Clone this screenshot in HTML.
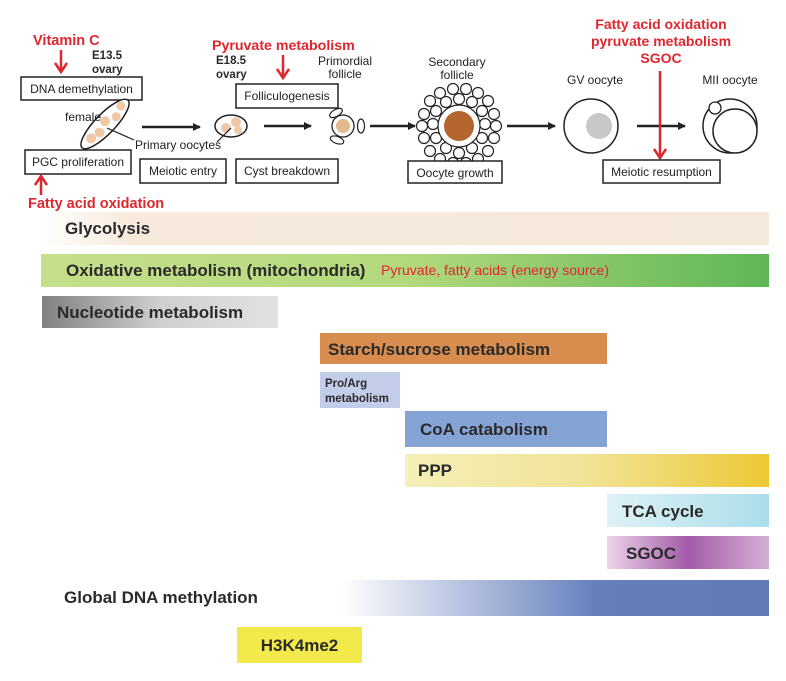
<!DOCTYPE html>
<html><head><meta charset="utf-8"><style>
html,body{margin:0;padding:0;background:#fff;}
svg{display:block;font-family:"Liberation Sans",Arial,sans-serif;}
.b{font-weight:bold;fill:#2a2a2a;}
.r{fill:#e0262e;font-weight:bold;}
.box{fill:#fff;stroke:#222;stroke-width:1.5;}
.t{font-size:12px;fill:#222;}
</style></head><body>
<svg width="786" height="681" viewBox="0 0 786 681" xmlns="http://www.w3.org/2000/svg">
<defs>
<marker id="ak" markerWidth="8" markerHeight="8" refX="7" refY="4" orient="auto" markerUnits="userSpaceOnUse"><path d="M0,0 L8,4 L0,8 z" fill="#222"/></marker>
<marker id="ar" markerWidth="14" markerHeight="14" refX="11" refY="7" orient="auto" markerUnits="userSpaceOnUse"><path d="M2,1 L11,7 L2,13" fill="none" stroke="#e0262e" stroke-width="2.5"/></marker>
<linearGradient id="g1"><stop offset="0" stop-color="#fff"/><stop offset="0.12" stop-color="#f7eadd"/><stop offset="1" stop-color="#f5e9dc"/></linearGradient>
<linearGradient id="g2"><stop offset="0" stop-color="#c5df8a"/><stop offset="0.5" stop-color="#b3d97c"/><stop offset="1" stop-color="#5fb656"/></linearGradient>
<linearGradient id="g3"><stop offset="0" stop-color="#808080"/><stop offset="0.5" stop-color="#cfcfcf"/><stop offset="1" stop-color="#e2e2e2"/></linearGradient>
<linearGradient id="g4"><stop offset="0" stop-color="#f5efb8"/><stop offset="0.5" stop-color="#f1e396"/><stop offset="1" stop-color="#ecc934"/></linearGradient>
<linearGradient id="g5"><stop offset="0" stop-color="#dff1f6"/><stop offset="1" stop-color="#aadeea"/></linearGradient>
<linearGradient id="g6"><stop offset="0" stop-color="#ecd3ea"/><stop offset="0.5" stop-color="#a35ca8"/><stop offset="1" stop-color="#d6aed6"/></linearGradient>
<linearGradient id="g7"><stop offset="0" stop-color="#fff"/><stop offset="0.6" stop-color="#657fbc"/><stop offset="1" stop-color="#627bb8"/></linearGradient>
</defs>

<text x="33" y="45" class="r" font-size="14.5">Vitamin C</text>
<line x1="61" y1="50" x2="61" y2="72" stroke="#e0262e" stroke-width="2.5" marker-end="url(#ar)"/>
<text x="92" y="59" class="b" font-size="11.5">E13.5</text>
<text x="92" y="73" class="b" font-size="11.5">ovary</text>
<rect x="21" y="77" width="121" height="23" class="box"/>
<text x="81.5" y="93" class="t" text-anchor="middle">DNA demethylation</text>
<g transform="translate(105,124) rotate(-46)">
<ellipse cx="0" cy="0" rx="33" ry="10" fill="#fff" stroke="#222" stroke-width="1.5"/>
<circle cx="-20" cy="0" r="5" fill="#f0c8a6"/><circle cx="-10" cy="2" r="5" fill="#f0c8a6"/><circle cx="2" cy="-2" r="5" fill="#f0c8a6"/><circle cx="13" cy="3" r="4.5" fill="#f0c8a6"/><circle cx="24" cy="-1" r="4.5" fill="#f0c8a6"/>
</g>
<text x="65" y="121" class="t">female</text>
<line x1="107" y1="128" x2="134" y2="140" stroke="#222" stroke-width="1.2"/>
<text x="135" y="149" class="t">Primary oocytes</text>
<rect x="25" y="150" width="106" height="24" class="box"/>
<text x="78" y="166" class="t" text-anchor="middle">PGC proliferation</text>
<line x1="41" y1="195" x2="41" y2="176" stroke="#e0262e" stroke-width="2.5" marker-end="url(#ar)"/>
<text x="28" y="208" class="r" font-size="14.5">Fatty acid oxidation</text>
<line x1="142" y1="127" x2="200" y2="127" stroke="#222" stroke-width="2.5" marker-end="url(#ak)"/>
<rect x="140" y="159" width="86" height="24" class="box"/>
<text x="183" y="175" class="t" text-anchor="middle">Meiotic entry</text>

<ellipse cx="231" cy="126" rx="16" ry="11" fill="#fff" stroke="#222" stroke-width="1.5"/>
<circle cx="226" cy="128" r="5" fill="#f0c8a6"/><circle cx="236" cy="122" r="5" fill="#f0c8a6"/><circle cx="238" cy="130" r="4" fill="#f0c8a6"/>
<line x1="231" y1="128" x2="217" y2="142" stroke="#222" stroke-width="1.2"/>
<text x="216" y="64" class="b" font-size="11.5">E18.5</text>
<text x="216" y="78" class="b" font-size="11.5">ovary</text>
<text x="212" y="50" class="r" font-size="14.2">Pyruvate metabolism</text>
<line x1="283" y1="55" x2="283" y2="78" stroke="#e0262e" stroke-width="2.5" marker-end="url(#ar)"/>
<rect x="236" y="84" width="102" height="24" class="box"/>
<text x="287" y="100" class="t" text-anchor="middle">Folliculogenesis</text>
<line x1="264" y1="126" x2="311" y2="126" stroke="#222" stroke-width="2.5" marker-end="url(#ak)"/>
<text x="345" y="65" class="t" text-anchor="middle">Primordial</text>
<text x="345" y="78" class="t" text-anchor="middle">follicle</text>
<circle cx="343" cy="126" r="11" fill="#fff" stroke="#222" stroke-width="1.3"/>
<circle cx="343" cy="126" r="7" fill="#e6b88e"/>
<ellipse cx="336" cy="113" rx="7" ry="3.5" transform="rotate(-30 336 113)" fill="#fff" stroke="#222" stroke-width="1.2"/>
<ellipse cx="337" cy="140" rx="7" ry="3.5" transform="rotate(20 337 140)" fill="#fff" stroke="#222" stroke-width="1.2"/>
<ellipse cx="361" cy="126" rx="3.5" ry="7" fill="#fff" stroke="#222" stroke-width="1.2"/>
<rect x="236" y="159" width="102" height="24" class="box"/>
<text x="287" y="175" class="t" text-anchor="middle">Cyst breakdown</text>
<line x1="370" y1="126" x2="415" y2="126" stroke="#222" stroke-width="2.5" marker-end="url(#ak)"/>

<text x="457" y="66" class="t" text-anchor="middle">Secondary</text>
<text x="457" y="79" class="t" text-anchor="middle">follicle</text>
<g fill="#fff" stroke="#222" stroke-width="1.2">
<circle cx="453" cy="89" r="5.5"/><circle cx="466" cy="89" r="5.5"/><circle cx="478" cy="93" r="5.5"/><circle cx="440" cy="93" r="5.5"/><circle cx="430" cy="101" r="5.5"/><circle cx="488" cy="101" r="5.5"/><circle cx="494" cy="114" r="5.5"/><circle cx="424" cy="114" r="5.5"/><circle cx="496" cy="126" r="5.5"/><circle cx="422" cy="126" r="5.5"/>
<circle cx="453" cy="163" r="5.5"/><circle cx="466" cy="163" r="5.5"/><circle cx="478" cy="159" r="5.5"/><circle cx="440" cy="159" r="5.5"/><circle cx="430" cy="151" r="5.5"/><circle cx="488" cy="151" r="5.5"/><circle cx="494" cy="138" r="5.5"/><circle cx="424" cy="138" r="5.5"/>
<circle cx="459" cy="99" r="5.5"/><circle cx="472" cy="102" r="5.5"/><circle cx="482" cy="111" r="5.5"/><circle cx="485" cy="124" r="5.5"/><circle cx="482" cy="138" r="5.5"/><circle cx="472" cy="148" r="5.5"/><circle cx="459" cy="153" r="5.5"/><circle cx="446" cy="148" r="5.5"/><circle cx="436" cy="138" r="5.5"/><circle cx="433" cy="124" r="5.5"/><circle cx="436" cy="111" r="5.5"/><circle cx="446" cy="102" r="5.5"/>
<circle cx="459" cy="126" r="21"/>
</g>
<circle cx="459" cy="126" r="15" fill="#b5652e"/>
<rect x="408" y="161" width="94" height="22" class="box"/>
<text x="455" y="177" class="t" text-anchor="middle">Oocyte growth</text>
<line x1="507" y1="126" x2="555" y2="126" stroke="#222" stroke-width="2.5" marker-end="url(#ak)"/>

<text x="595" y="84" class="t" text-anchor="middle">GV oocyte</text>
<circle cx="591" cy="126" r="27" fill="#fff" stroke="#222" stroke-width="1.5"/>
<circle cx="599" cy="126" r="13" fill="#c8c8c8"/>
<line x1="637" y1="126" x2="685" y2="126" stroke="#222" stroke-width="2.5" marker-end="url(#ak)"/>
<text x="730" y="84" class="t" text-anchor="middle">MII oocyte</text>
<circle cx="730" cy="126" r="27" fill="#fff" stroke="#222" stroke-width="1.5"/>
<circle cx="735" cy="131" r="22" fill="#fff" stroke="#222" stroke-width="1.5"/>
<circle cx="715" cy="108" r="6" fill="#fff" stroke="#222" stroke-width="1.3"/>

<text x="661" y="29" class="r" font-size="14" text-anchor="middle">Fatty acid oxidation</text>
<text x="661" y="46" class="r" font-size="14" text-anchor="middle">pyruvate metabolism</text>
<text x="661" y="63" class="r" font-size="14" text-anchor="middle">SGOC</text>
<line x1="660" y1="71" x2="660" y2="158" stroke="#e0262e" stroke-width="2.5" marker-end="url(#ar)"/>
<rect x="603" y="160" width="117" height="23" class="box"/>
<text x="661.5" y="176" class="t" text-anchor="middle">Meiotic resumption</text>

<rect x="41" y="212" width="728" height="33" fill="url(#g1)"/>
<text x="65" y="234" class="b" font-size="17">Glycolysis</text>
<rect x="41" y="254" width="728" height="33" fill="url(#g2)"/>
<text x="66" y="276" class="b" font-size="17">Oxidative metabolism (mitochondria)</text>
<text x="381" y="275" fill="#e0262e" font-size="14">Pyruvate, fatty acids (energy source)</text>
<rect x="42" y="296" width="236" height="32" fill="url(#g3)"/>
<text x="57" y="318" class="b" font-size="17">Nucleotide metabolism</text>
<rect x="320" y="333" width="287" height="31" fill="#d88c4e"/>
<text x="328" y="355" class="b" font-size="17">Starch/sucrose metabolism</text>
<rect x="320" y="372" width="80" height="36" fill="#c3cdea"/>
<text x="325" y="387" class="b" font-size="11.5">Pro/Arg</text>
<text x="325" y="402" class="b" font-size="11.5">metabolism</text>
<rect x="405" y="411" width="202" height="36" fill="#86a3d5"/>
<text x="420" y="435" class="b" font-size="17">CoA catabolism</text>
<rect x="405" y="454" width="364" height="33" fill="url(#g4)"/>
<text x="418" y="476" class="b" font-size="17">PPP</text>
<rect x="607" y="494" width="162" height="33" fill="url(#g5)"/>
<text x="622" y="517" class="b" font-size="17">TCA cycle</text>
<rect x="607" y="536" width="162" height="33" fill="url(#g6)"/>
<text x="626" y="559" class="b" font-size="17">SGOC</text>
<rect x="340" y="580" width="429" height="36" fill="url(#g7)"/>
<text x="64" y="603" class="b" font-size="17">Global DNA methylation</text>
<rect x="237" y="627" width="125" height="36" fill="#f2ea4a"/>
<text x="299.5" y="651" class="b" font-size="17" text-anchor="middle">H3K4me2</text>
</svg>
</body></html>
